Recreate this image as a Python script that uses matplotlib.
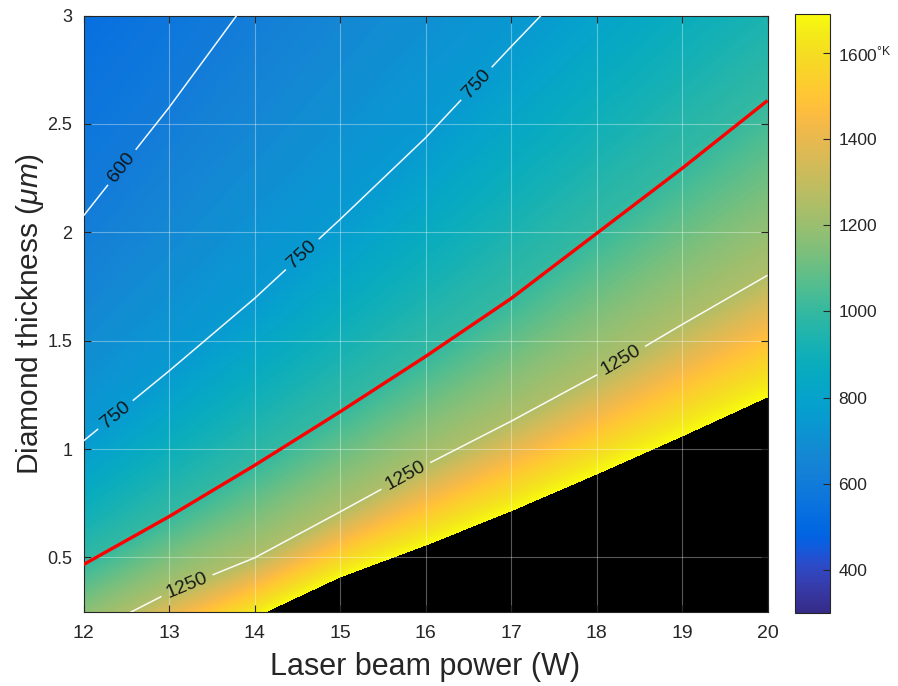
import numpy as np
import matplotlib
matplotlib.use("Agg")
import matplotlib.pyplot as plt
from matplotlib.colors import LinearSegmentedColormap, Normalize
from matplotlib.cm import ScalarMappable

# ---------------- data ----------------
power_w = [12, 13, 14, 15, 16, 17, 18, 19, 20]
# thickness (um) at which the temperature equals each level, for every power
# (values outside the 0.25-3 um window are extrapolated estimates)
thick_1690k = [-0.15, 0.034, 0.219, 0.404, 0.551, 0.709, 0.879, 1.054, 1.235]
thick_1250k = [0.135, 0.337, 0.497, 0.709, 0.925, 1.127, 1.340, 1.573, 1.800]
thick_1000k = [0.466, 0.687, 0.923, 1.170, 1.425, 1.692, 1.992, 2.292, 2.605]
thick_750k = [1.034, 1.356, 1.690, 2.054, 2.430, 2.850, 3.260, 3.670, 4.080]
thick_600k = [2.069, 2.569, 3.106, 3.640, 4.200, 4.750, 5.300, 5.850, 6.400]
# padding rows far outside the window (bottom: molten/black zone, top: cold side)
thick_bottom = [-1.0] * 9
temp_bottom = [2600] * 9
thick_top = [7.0] * 9
temp_top = [245, 271, 300, 300, 300, 300, 300, 300, 300]

white_levels = [600, 750, 1250]
red_levels = [1000]
color_min, color_max = 300, 1690
xticks = [12, 13, 14, 15, 16, 17, 18, 19, 20]
yticks = [0.5, 1.0, 1.5, 2.0, 2.5, 3.0]
ytick_labels = ["0.5", "1", "1.5", "2", "2.5", "3"]
cbar_ticks = [400, 600, 800, 1000, 1200, 1400, 1600]
cbar_labels = ["400", "600", "800", "1000", "1200", "1400", "1600$^{\\mathrm{°K}}$"]
label_positions = [(12.48, 2.29), (12.38, 1.155), (14.59, 1.885), (16.62, 2.677),
                   (13.2, 0.38), (15.77, 0.876), (18.3, 1.40)]

# MATLAB parula (64 entries)
parula = [
    [0.2081, 0.1663, 0.5292], [0.2116, 0.1898, 0.5777], [0.2123, 0.2138, 0.6270],
    [0.2081, 0.2386, 0.6771], [0.1959, 0.2645, 0.7279], [0.1707, 0.2919, 0.7792],
    [0.1253, 0.3242, 0.8303], [0.0591, 0.3598, 0.8683], [0.0117, 0.3875, 0.8820],
    [0.0060, 0.4086, 0.8828], [0.0165, 0.4266, 0.8786], [0.0329, 0.4430, 0.8720],
    [0.0498, 0.4586, 0.8641], [0.0629, 0.4737, 0.8554], [0.0723, 0.4887, 0.8467],
    [0.0779, 0.5040, 0.8384], [0.0793, 0.5200, 0.8312], [0.0749, 0.5375, 0.8263],
    [0.0641, 0.5570, 0.8240], [0.0488, 0.5772, 0.8228], [0.0343, 0.5966, 0.8199],
    [0.0265, 0.6137, 0.8135], [0.0239, 0.6287, 0.8038], [0.0231, 0.6418, 0.7913],
    [0.0228, 0.6535, 0.7768], [0.0267, 0.6642, 0.7607], [0.0384, 0.6743, 0.7436],
    [0.0590, 0.6838, 0.7254], [0.0843, 0.6928, 0.7062], [0.1133, 0.7015, 0.6859],
    [0.1453, 0.7098, 0.6646], [0.1801, 0.7177, 0.6424], [0.2178, 0.7250, 0.6193],
    [0.2586, 0.7317, 0.5954], [0.3022, 0.7376, 0.5712], [0.3482, 0.7424, 0.5473],
    [0.3953, 0.7459, 0.5244], [0.4420, 0.7481, 0.5033], [0.4871, 0.7491, 0.4840],
    [0.5300, 0.7491, 0.4661], [0.5709, 0.7485, 0.4494], [0.6099, 0.7473, 0.4337],
    [0.6473, 0.7456, 0.4188], [0.6834, 0.7435, 0.4044], [0.7184, 0.7411, 0.3905],
    [0.7525, 0.7384, 0.3768], [0.7858, 0.7356, 0.3633], [0.8185, 0.7327, 0.3498],
    [0.8507, 0.7299, 0.3360], [0.8824, 0.7274, 0.3217], [0.9139, 0.7258, 0.3063],
    [0.9450, 0.7261, 0.2886], [0.9739, 0.7314, 0.2666], [0.9938, 0.7455, 0.2403],
    [0.9990, 0.7653, 0.2164], [0.9955, 0.7861, 0.1967], [0.9880, 0.8066, 0.1794],
    [0.9789, 0.8271, 0.1633], [0.9697, 0.8481, 0.1475], [0.9626, 0.8705, 0.1309],
    [0.9589, 0.8949, 0.1132], [0.9598, 0.9218, 0.0948], [0.9661, 0.9514, 0.0755],
    [0.9763, 0.9831, 0.0538],
]

# ---------------- style ----------------
plt.rcParams["font.family"] = ["Liberation Sans", "DejaVu Sans"]
plt.rcParams["mathtext.fontset"] = "custom"
plt.rcParams["mathtext.rm"] = "Liberation Sans"
plt.rcParams["mathtext.it"] = "Liberation Sans:italic"
plt.rcParams["mathtext.bf"] = "Liberation Sans:bold"
text_color = "#262626"

cmap = LinearSegmentedColormap.from_list("parula", parula, N=512)
cmap.set_over("black")
cmap.set_under(parula[0])
norm = Normalize(vmin=color_min, vmax=color_max)

# curvilinear grid: one column per power, one row per temperature level
thick_rows = [thick_bottom, thick_1690k, thick_1250k, thick_1000k, thick_750k, thick_600k, thick_top]
temp_rows = [temp_bottom, [1690] * 9, [1250] * 9, [1000] * 9, [750] * 9, [600] * 9, temp_top]
Dg = np.array(thick_rows, dtype=float)
Tg = np.array(temp_rows, dtype=float)
Pg = np.tile(np.array(power_w, dtype=float), (Dg.shape[0], 1))

fig = plt.figure(figsize=(8.98, 6.86), dpi=100)
W, H = 898.0, 686.0
ax = fig.add_axes([83.5 / W, (H - 611.6) / H, 684 / W, 596 / H])
cax = fig.add_axes([795 / W, (H - 613.3) / H, 35 / W, 599.3 / H])

fill_levels = np.linspace(color_min, color_max, 240)
ax.contourf(Pg, Dg, Tg, levels=fill_levels, cmap=cmap, norm=norm, extend="both",
            antialiased=False, zorder=0)

# contour levels nudged by 0.5 K so that lines do not run exactly through grid nodes
eps = 0.5
w_lv = [lv - eps for lv in white_levels]
r_lv = [lv - eps for lv in red_levels]
cs_w = ax.contour(Pg, Dg, Tg, levels=w_lv, colors="white", linewidths=1.1,
                  alpha=0.95, zorder=3)
cs_r = ax.contour(Pg, Dg, Tg, levels=r_lv, colors="#ff0000", linewidths=2.4, zorder=3)

ax.set_xlim(12, 20)
ax.set_ylim(0.25, 3)

fmt = {lv - eps: str(lv) for lv in white_levels}
ax.clabel(cs_w, fmt=fmt, fontsize=14, colors="#111111", inline=True,
          inline_spacing=6, manual=label_positions)

ax.set_xticks(xticks)
ax.set_yticks(yticks)
ax.set_yticklabels(ytick_labels)
ax.grid(True, color="white", alpha=0.35, linewidth=0.8)
ax.tick_params(direction="in", top=True, right=True, length=5, width=0.8,
               color=text_color, labelcolor=text_color, pad=8)
ax.tick_params(axis="x", labelsize=14, pad=10)
ax.tick_params(axis="y", labelsize=13)
for s in ax.spines.values():
    s.set_color(text_color)
    s.set_linewidth(0.8)

ax.set_xlabel("Laser beam power (W)", fontsize=22, color=text_color, labelpad=7)
ax.set_ylabel("Diamond thickness ($\\mu m$)", fontsize=21.5, color=text_color, labelpad=1)

sm = ScalarMappable(norm=norm, cmap=cmap)
cb = fig.colorbar(sm, cax=cax, extend="neither")
cb.set_ticks(cbar_ticks)
cb.set_ticklabels(cbar_labels)
cb.ax.tick_params(direction="in", length=5, width=0.8, color=text_color,
                  labelcolor=text_color, labelsize=12.5, pad=6)
cb.outline.set_edgecolor(text_color)
cb.outline.set_linewidth(0.8)

fig.savefig("out.png", dpi=100)
